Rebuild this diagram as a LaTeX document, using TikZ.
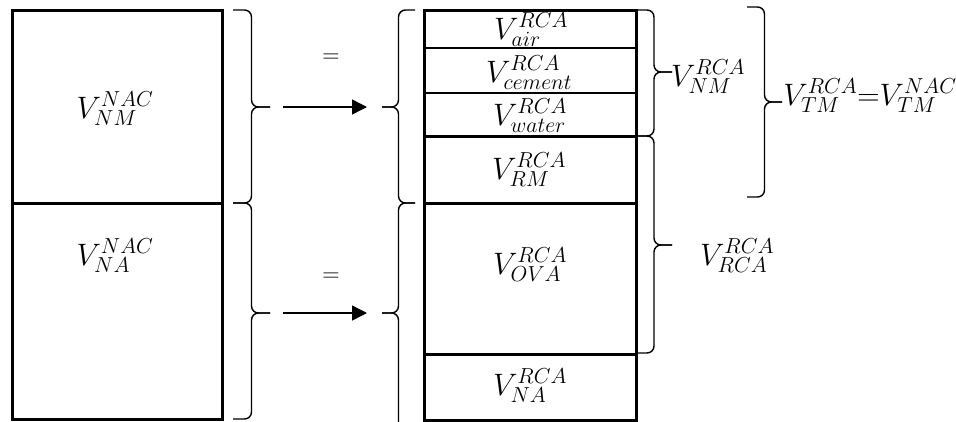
\RequirePackage{fix-cm}
\documentclass[tikz,border=0pt]{standalone}
\usetikzlibrary{arrows.meta}

\tikzset{
  boxline/.style={line width=3pt},
  cellline/.style={line width=1.2pt},
  bracestyle/.style={line width=1.4pt, rounded corners=7pt},
  arr/.style={line width=1.4pt, -{Triangle[length=15pt,width=15pt]}},
  lbl/.style={inner sep=0pt, font=\fontsize{31}{36}\selectfont},
  eq/.style={inner sep=0pt, font=\fontsize{24}{28}\selectfont}
}

% brace: name of tip, x of open ends, x of tip, y top, y of tip, y bottom
\newcommand{\wbrace}[6]{%
  \draw[bracestyle] (#2,#4) -- ({(#2+#3)/2},#4) -- ({(#2+#3)/2},#5) -- (#3,#5);
  \draw[bracestyle] (#3,#5) -- ({(#2+#3)/2},#5) -- ({(#2+#3)/2},#6) -- (#2,#6);
  \coordinate (#1) at (#3,#5);}

\begin{document}
\begin{tikzpicture}[x=1pt,y=-1pt]
  \useasboundingbox (0,0) rectangle (956,421);

  % natural aggregate concrete
  \draw[boxline] (12,10) rectangle (222,419);
  \draw[boxline] (12,203) -- (222,203);
  \node[lbl] (nacnm) at (115,109) {$V^{NAC}_{NM}$};
  \node[lbl] (nacna) at (115,256) {$V^{NAC}_{NA}$};

  % recycled aggregate concrete
  \draw[boxline] (424,10) rectangle (636,420);
  \draw[cellline] (424,48) -- (636,48);
  \draw[cellline] (424,93) -- (636,93);
  \draw[boxline] (424,136) -- (636,136);
  \draw[boxline] (424,203) -- (636,203);
  \draw[boxline] (424,354) -- (636,354);
  \node[lbl] (air) at (531,30) {$V^{RCA}_{air}$};
  \node[lbl] (cement) at (529,73) {$V^{RCA}_{cement}$};
  \node[lbl] (water) at (530,116) {$V^{RCA}_{water}$};
  \node[lbl] (rm) at (529,170) {$V^{RCA}_{RM}$};
  \node[lbl] (ova) at (530,265) {$V^{RCA}_{OVA}$};
  \node[lbl] (na) at (530,386) {$V^{RCA}_{NA}$};

  % braces
  \wbrace{nmL}{233}{270}{10}{107}{203}
  \wbrace{naL}{233}{270}{203}{313}{419}
  \wbrace{nmR}{415}{382}{10}{107}{203}
  \wbrace{naR}{415}{382}{203}{313}{435}
  \wbrace{nmB}{636}{672}{10}{72}{136}
  \wbrace{rcaB}{636}{672}{136}{245}{353}
  \wbrace{tmB}{747}{782}{7}{102}{197}

  \draw[arr, shorten <=13pt, shorten >=15pt] (nmL) -- (nmR);
  \draw[arr, shorten <=13pt, shorten >=15pt] (naL) -- (naR);
  \node[eq] (eqA) at (331,58) {$=$};
  \node[eq] (eqB) at (331,277) {$=$};

  \node[lbl] (rcanm) at (708,77) {$V^{RCA}_{NM}$};
  \node[lbl] (rcarca) at (737,256) {$V^{RCA}_{RCA}$};
  \node[lbl] (tm) at (870,96) {$V^{RCA}_{TM}{=}V^{NAC}_{TM}$};
\end{tikzpicture}
\end{document}
